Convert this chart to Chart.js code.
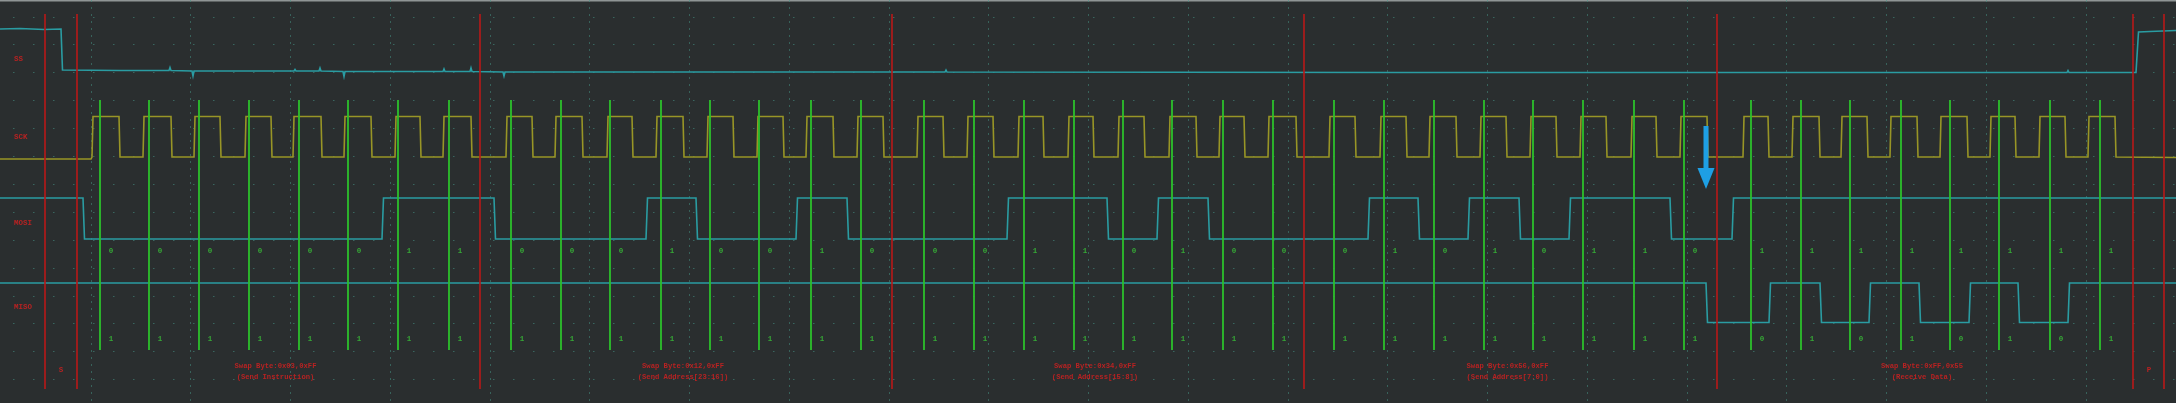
<!DOCTYPE html>
<html>
<head>
<meta charset="utf-8">
<script src="https://cdn.jsdelivr.net/npm/chart.js@4.4.1/dist/chart.umd.min.js"></script>
<style>
html, body { margin: 0; padding: 0; background: #2a2e2f; overflow: hidden; }
#wrap { position: relative; width: 2176px; height: 403px; }
</style>
</head>
<body>
<div id="wrap"><canvas id="spi-chart"></canvas></div>
<script>
// SPI read capture (instruction 0x03, address 0x123456, data 0x55)
// x = time in screen-like units, y = level (top = 0)

const channelNames = ['SS', 'SCK', 'MOSI', 'MISO'];
const channelLabelY = [59, 137, 223, 307];

// sample instants (green markers), one per clock
const sampleX = [
    100, 149, 199, 249, 299, 348, 398, 449,
    511, 561, 610, 661, 710, 759, 811, 861,
    924, 974, 1024, 1074, 1123, 1172, 1223, 1273,
    1334, 1384, 1434, 1484, 1533, 1583, 1634, 1684,
    1751, 1801, 1850, 1901, 1950, 1999, 2050, 2100
];
const mosiBits = [
    0, 0, 0, 0, 0, 0, 1, 1,
    0, 0, 0, 1, 0, 0, 1, 0,
    0, 0, 1, 1, 0, 1, 0, 0,
    0, 1, 0, 1, 0, 1, 1, 0,
    1, 1, 1, 1, 1, 1, 1, 1
];
const misoBits = [
    1, 1, 1, 1, 1, 1, 1, 1,
    1, 1, 1, 1, 1, 1, 1, 1,
    1, 1, 1, 1, 1, 1, 1, 1,
    1, 1, 1, 1, 1, 1, 1, 1,
    0, 1, 0, 1, 0, 1, 0, 1
];

// red frame markers (start, byte boundaries, stop)
const markerX = [45, 77, 480, 892, 1304, 1717, 2133, 2164];
const byteTitles = ['Swap Byte:0x03,0xFF', 'Swap Byte:0x12,0xFF', 'Swap Byte:0x34,0xFF', 'Swap Byte:0x56,0xFF', 'Swap Byte:0xFF,0x55'];
const byteNotes = ['(Send Instruction)', '(Send Address[23:16])', '(Send Address[15:8])', '(Send Address[7:0])', '(Receive Data)'];

// SCK edges
const sckRise = [
    92, 143, 194, 245, 293, 344, 395, 443,
    506, 555, 607, 656, 707, 757, 806, 857,
    917, 967, 1018, 1068, 1118, 1169, 1219, 1268,
    1329, 1380, 1429, 1480, 1530, 1580, 1631, 1680,
    1743, 1792, 1841, 1890, 1940, 1990, 2039, 2088
];
const sckFall = [
    119, 171, 220, 271, 321, 371, 420, 471,
    532, 582, 632, 683, 733, 783, 833, 883,
    943, 993, 1043, 1093, 1144, 1196, 1244, 1296,
    1355, 1406, 1456, 1506, 1556, 1606, 1656, 1707,
    1768, 1819, 1867, 1917, 1967, 2015, 2065, 2115
];

// MOSI / MISO toggle instants (both start high)
const mosiEdges = [83, 382, 494, 646, 696, 796, 847, 1007, 1107, 1157, 1208, 1368, 1418, 1468, 1519, 1569, 1670, 1732];
const misoEdges = [1706, 1769, 1820, 1869, 1919, 1969, 2018, 2068];

// SS trace as read, with the small glitches
const ssTrace = [
    [0, 29], [20, 28.5], [44, 29.5], [61, 29], [62.5, 70], [120, 70.5], [169, 70.5], [170, 67.5], [171, 70.5],
    [192, 71], [193, 76], [194, 71], [294, 71], [295, 69.5], [296, 71], [319, 71], [320, 68], [321, 71],
    [343, 71.5], [344, 76.5], [345, 71.5], [443, 71.5], [444, 69], [445, 71.5], [470, 71.5], [471, 68],
    [472, 71.5], [503, 72], [504, 76], [505, 72], [700, 72], [945, 72], [946, 70], [947, 72], [1400, 72.5],
    [2067, 72.5], [2068, 70.5], [2069, 72.5], [2136, 72.5], [2138.5, 32], [2150, 31.5], [2176, 30.5]
];

const levels = { sckHi: 116.5, sckLo: 157, mosiHi: 198, mosiLo: 239, misoHi: 283, misoLo: 322.5 };

const majorGridX = [];
for (let k = 0; k <= 20; k++) majorGridX.push(91 + 99.75 * k);
const minorGridY = [];
for (let k = 0; k <= 13; k++) minorGridY.push(17 + 27.9 * k);

function toggleWave(edges, hi, lo, startHigh, endX) {
    const pts = [{ x: 0, y: startHigh ? hi : lo }];
    let high = startHigh;
    edges.forEach(e => {
        pts.push({ x: e, y: high ? hi : lo });
        high = !high;
        pts.push({ x: e + 1.5, y: high ? hi : lo });
    });
    pts.push({ x: endX, y: high ? hi : lo });
    return pts;
}

function clockWave() {
    const pts = [{ x: 0, y: levels.sckLo + 2 }, { x: sckRise[0] - 1, y: levels.sckLo + 2 }];
    sckRise.forEach((r, i) => {
        pts.push({ x: r, y: levels.sckLo });
        pts.push({ x: r + 1, y: levels.sckHi });
        pts.push({ x: sckFall[i], y: levels.sckHi });
        pts.push({ x: sckFall[i] + 1, y: levels.sckLo });
    });
    pts.push({ x: 2176, y: levels.sckLo + 0.5 });
    return pts;
}

function verticals(xs, top, bottom) {
    const pts = [];
    xs.forEach(x => { pts.push({ x, y: top }, { x, y: bottom }, { x, y: null }); });
    return pts;
}

const scopePlugin = {
    id: 'scope',
    beforeDraw(chart) {
        const { ctx, width, height } = chart;
        ctx.save();
        ctx.fillStyle = '#2a2e2f';
        ctx.fillRect(0, 0, width, height);
        ctx.fillStyle = '#8f9595';
        ctx.fillRect(0, 0, width, 1.5);
        ctx.restore();
    },
    afterDatasetsDraw(chart) {
        const { ctx } = chart;
        const xs = chart.scales.x, ys = chart.scales.y;
        const px = v => xs.getPixelForValue(v);
        const py = v => ys.getPixelForValue(v);
        ctx.save();
        ctx.textBaseline = 'middle';

        // channel names
        ctx.font = 'bold 7.5px "Liberation Mono", monospace';
        ctx.fillStyle = '#b82222';
        ctx.textAlign = 'left';
        channelNames.forEach((n, i) => ctx.fillText(n, 14, py(channelLabelY[i])));

        // decoded bits
        ctx.fillStyle = '#36a836';
        ctx.textAlign = 'center';
        sampleX.forEach((x, i) => {
            ctx.fillText(String(mosiBits[i]), px(x + 11), py(251));
            ctx.fillText(String(misoBits[i]), px(x + 11), py(339));
        });

        // byte annotations
        ctx.fillStyle = '#b82222';
        ctx.font = 'bold 7.2px "Liberation Mono", monospace';
        byteTitles.forEach((t, i) => {
            const cx = (markerX[i + 1] + markerX[i + 2]) / 2 - 3;
            ctx.fillText(t, px(cx), py(366));
            ctx.fillText(byteNotes[i], px(cx), py(377));
        });
        ctx.font = 'bold 7.5px "Liberation Mono", monospace';
        ctx.fillText('S', px(61), py(370));
        ctx.fillText('P', px(2149), py(370));

        // blue arrow
        const ax = px(1706);
        ctx.fillStyle = '#1e9fe4';
        ctx.fillRect(ax - 2.5, py(126), 5, py(170) - py(126));
        ctx.beginPath();
        ctx.moveTo(ax - 8.5, py(168));
        ctx.lineTo(ax + 8.5, py(168));
        ctx.lineTo(ax, py(189));
        ctx.closePath();
        ctx.fill();
        ctx.restore();
    }
};

const ctx = document.getElementById('spi-chart').getContext('2d');
new Chart(ctx, {
    type: 'line',
    data: {
        datasets: [
            { label: 'markers', data: verticals(markerX, 14, 389), borderColor: '#b81818', borderWidth: 1.6, order: 0 },
            { label: 'samples', data: verticals(sampleX, 100, 350), borderColor: '#2cc02c', borderWidth: 1.8, order: 1 },
            { label: 'SS', data: ssTrace.map(p => ({ x: p[0], y: p[1] })), borderColor: '#2a9ca2', borderWidth: 1.6, order: 2 },
            { label: 'SCK', data: clockWave(), borderColor: '#989526', borderWidth: 1.6, order: 2 },
            { label: 'MOSI', data: toggleWave(mosiEdges, levels.mosiHi, levels.mosiLo, true, 2176), borderColor: '#2a9ca2', borderWidth: 1.6, order: 2 },
            { label: 'MISO', data: toggleWave(misoEdges, levels.misoHi, levels.misoLo, true, 2176), borderColor: '#2a9ca2', borderWidth: 1.6, order: 2 }
        ]
    },
    options: {
        responsive: true,
        maintainAspectRatio: false,
        animation: false,
        layout: { padding: 0 },
        elements: { point: { radius: 0 }, line: { tension: 0 } },
        plugins: { legend: { display: false }, tooltip: { enabled: false } },
        scales: {
            x: {
                type: 'linear', min: 0, max: 2176, bounds: 'data',
                afterBuildTicks: s => { s.ticks = majorGridX.map(v => ({ value: v })); },
                ticks: { display: false },
                grid: { color: 'rgba(70,150,135,0.5)', lineWidth: 1, drawTicks: false },
                border: { display: false, dash: [2, 5] }
            },
            y: {
                type: 'linear', min: 0, max: 403, reverse: true, bounds: 'data',
                afterBuildTicks: s => { s.ticks = minorGridY.map(v => ({ value: v })); },
                ticks: { display: false },
                grid: { color: 'rgba(70,150,135,0.55)', lineWidth: 1, drawTicks: false },
                border: { display: false, dash: [1.5, 18.5], dashOffset: 7 }
            }
        }
    },
    plugins: [scopePlugin]
});
</script>
</body>
</html>
